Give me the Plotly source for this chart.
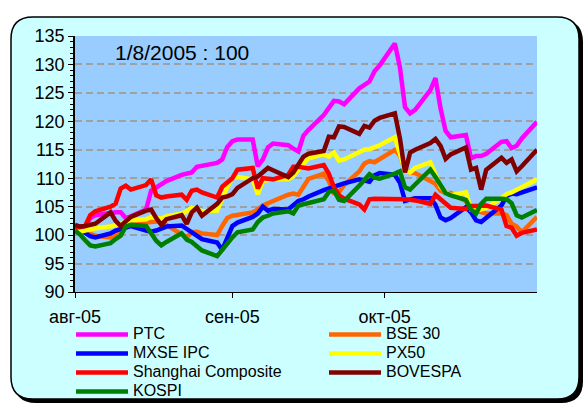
import plotly.graph_objects as go

# ---------------- data ----------------
AUG_DAYS = [1, 2, 3, 4, 5, 8, 9, 10, 11, 12, 15, 16, 17, 18, 19, 22, 23, 24, 25, 26, 29, 30, 31]
SEP_DAYS = [1, 2, 5, 6, 7, 8, 9, 12, 13, 14, 15, 16, 19, 20, 21, 22, 23, 26, 27, 28, 29, 30]
OCT_DAYS = [3, 4, 5, 6, 7, 10, 11, 12, 13, 14, 17, 18, 19, 20, 21, 24, 25, 26, 27, 28, 31]

dates = ([f"2005-08-{d:02d}" for d in AUG_DAYS] +
         [f"2005-09-{d:02d}" for d in SEP_DAYS] +
         [f"2005-10-{d:02d}" for d in OCT_DAYS])

tick_dates = ["2005-08-01", "2005-09-01", "2005-10-01"]
tick_labels = ["авг-05", "сен-05", "окт-05"]

rts = [101, 101, 101.5, 103, 103.5, 104, 104, 104, 103, 103.3, 104.5, 107.8, 108.3, 109, 109.5,
       110.6, 110.8, 111, 112, 112.2, 112.7, 113.3, 115.5,
       116.5, 116.8, 116.8, 112.1, 113.3, 115.4, 116.1, 115.8, 115.2, 114.7, 117.5, 118.5,
       121.1, 122.5, 123.6, 123.5, 123, 125.8, 126.5, 127, 128.8, 129.8,
       133.7, 129.5, 122.5, 121.4, 122, 125.5, 127.6, 122.3, 118.3, 117.2,
       117.6, 113.5, 113.9, 113.9, 114.3, 116.4, 116.5, 115.3, 115.7, 117, 119.9]

bse30 = [101, 100.8, 100.5, 100.2, 99.9, 99.6, 100.2, 100.8, 101.5, 101.9, 102.2, 102.3, 102.4, 102.5, 101.8,
         100.3, 99.6, 100.5, 100.6, 100.3, 100, 101.6, 103,
         103.4, 103.6, 104, 104.5, 105.2, 105.6, 106, 107.1, 107.3, 107.1, 108.5, 109.9,
         110.8, 109.5, 107.4, 107.6, 108.8, 111.2, 112.6, 113, 112.8, 113.4,
         115, 114, 111.5, 111, 110.9, 109.5, 109, 107.8, 107.4, 107.4,
         106, 104.5, 104.2, 104, 103.8, 103.8, 103.5, 102, 101.5, 100.5, 103.2]

mxse_ipc = [101.2, 101, 100.4, 99.8, 99.6, 100.3, 100.8, 101, 101.3, 101.6, 100.8, 100.6, 100.8, 101.2, 101.5,
            101.7, 101.1, 100.4, 99.8, 99.3, 98.7, 97.4, 99.5,
            101.6, 102.2, 103.2, 103.8, 105, 104.3, 104.6, 104.5, 105.2, 106, 106.3, 106.8,
            107.9, 108.2, 108.5, 108.9, 109.1, 109.8, 109.6, 109.4, 110.5, 110.9,
            110.6, 109.2, 106, 106.3, 106.5, 106.5, 105.3, 103.1, 102.6, 103,
            104.9, 104, 102.6, 102.3, 103, 105.2, 106.9, 107.3, 107.2, 107.5, 108.4]

px50 = [100.8, 100.6, 100.8, 101, 101.2, 101.5, 101.8, 102.2, 102.5, 102.6, 102.8, 103.2, 103, 102.9, 103.3,
        103.8, 104.2, 104.8, 104.5, 104.2, 104.3, 106.5, 108.5,
        110, 110.2, 109.8, 107.2, 109.5, 109.7, 109.8, 109.8, 110.4, 111.5, 112.5, 113.5,
        114.2, 113.8, 114.5, 113.1, 113.3, 114.6, 115, 115.1, 115.4, 115.8,
        117.2, 114, 111.3, 111, 111.8, 112.8, 110.5, 108.5, 107.6, 107,
        107.5, 104.5, 104.3, 104.5, 104.8, 106.5, 107.2, 107.5, 108, 108.3, 109.8]

shanghai = [101.3, 101.4, 101.6, 103.5, 104.2, 105, 105.5, 108.2, 108.7, 108, 108.8, 109.8, 107, 106.6, 106.8,
            107.1, 106.2, 107.8, 108, 107.5, 106.6, 108.5, 109.3,
            110, 111.5, 111.8, 108.2, 110, 109.9, 109.8, 110.6, 112, 112, 111.9, 111.7,
            112.3, 110.8, 108.4, 107, 106.4, 105.4, 104.5, 106.3, 106.4, 106.4,
            106.4, 106.3, 106.3, 106.2, 106.1, 105.5, 107.1, 106.3, 105.6, 104.8,
            104.6, 105.1, 105.1, 105.1, 105.2, 104.5, 101.6, 101.3, 99.9, 100.4, 101]

bovespa = [101.8, 101.5, 101.6, 101.8, 102, 104, 102.5, 101.6, 102.5, 103.2, 104.3, 104.5, 103, 101.8, 102.8,
           103.5, 102, 104, 104.8, 103.4, 105.5, 106.6, 106.8,
           107.2, 108.3, 110, 110.3, 111, 111.8, 111.4, 110.2, 111, 112.5, 113.8, 114.3,
           114.8, 117.3, 117.2, 119.1, 119, 117.8, 119.2, 118.9, 120.1, 120.6,
           121.4, 117, 111, 114.5, 115, 116.2, 116.9, 115.7, 113.4, 114.2,
           115.4, 111.5, 111.8, 108, 111.5, 113.6, 112.7, 113.3, 111.2, 112.1, 115]

kospi = [100.8, 100.1, 99.1, 98.2, 98, 98.6, 99.3, 99.9, 101.5, 101.8, 101.6, 100.3, 99, 98.2, 98.8,
         100.3, 99.2, 98.8, 98, 97.3, 96.3, 97.5, 98.5,
         99.6, 100.5, 101, 102.3, 103.1, 103.4, 103.8, 104.2, 103.8, 105.2, 105.4, 105.5,
         106.3, 107.6, 107.8, 106.2, 106, 108.7, 109.6, 110.7, 110.1, 109.9,
         110.8, 111.2, 108.4, 108, 108.9, 111.5, 110.2, 108.6, 107.4, 107,
         106.2, 104.5, 103.8, 105.5, 106.4, 106.4, 106.3, 105.6, 103.5, 103.1, 104.4]

series_names = ["PTC", "BSE 30", "MXSE IPC", "PX50", "Shanghai Composite", "BOVESPA", "KOSPI"]
series_values = [rts, bse30, mxse_ipc, px50, shanghai, bovespa, kospi]
series_colors = ["#FF00FF", "#FF6600", "#0000FF", "#FFFF00", "#FF0000", "#800000", "#008000"]

# ---------------- layout geometry (pixels) ----------------
W, H = 584, 407
L, R, T, B = 75, 47, 36, 115
PW, PH = W - L - R, H - T - B
FONT = "Arial, Liberation Sans, sans-serif"
LEGEND_TEXT_PX = 16


def px2paper(x, y):
    return (x - L) / PW, (H - B - y) / PH


def rounded_path(x0, y0, x1, y1, r):
    def P(x, y):
        a, b = px2paper(x, y)
        return f"{a:.5f},{b:.5f}"
    return (f"M{P(x0 + r, y0)} L{P(x1 - r, y0)} Q{P(x1, y0)} {P(x1, y0 + r)} "
            f"L{P(x1, y1 - r)} Q{P(x1, y1)} {P(x1 - r, y1)} "
            f"L{P(x0 + r, y1)} Q{P(x0, y1)} {P(x0, y1 - r)} "
            f"L{P(x0, y0 + r)} Q{P(x0, y0)} {P(x0 + r, y0)} Z")


fig = go.Figure()
for name, vals, col in zip(series_names, series_values, series_colors):
    fig.add_trace(go.Scatter(
        x=dates, y=vals, mode="lines",
        name=f"<span style='font-size:{LEGEND_TEXT_PX}px'>{name}</span>",
        line=dict(color=col, width=4.5)))

shapes = [
    dict(type="path", xref="paper", yref="paper", layer="below",
         path=rounded_path(14, 20, 583, 403, 22), fillcolor="#000000", line=dict(width=0)),
    dict(type="path", xref="paper", yref="paper", layer="below",
         path=rounded_path(11, 17, 579, 399, 22), fillcolor="#CCFFFF",
         line=dict(color="#000000", width=1.5)),
    dict(type="rect", xref="paper", yref="paper", layer="below",
         x0=0, x1=1, y0=0, y1=1, fillcolor="#99CCFF", line=dict(width=0)),
]

fig.update_layout(
    width=W, height=H,
    margin=dict(l=L, r=R, t=T, b=B, autoexpand=False),
    paper_bgcolor="#FFFFFF",
    plot_bgcolor="rgba(0,0,0,0)",
    font=dict(family=FONT, color="#000000"),
    shapes=shapes,
    showlegend=True,
    legend=dict(orientation="h", x=(71 - L) / PW, xanchor="left",
                y=(H - B - 320) / PH, yanchor="top",
                entrywidth=186, entrywidthmode="pixels",
                font=dict(size=12, family=FONT), bgcolor="rgba(0,0,0,0)",
                itemwidth=52, tracegroupgap=0),
    annotations=[dict(text="1/8/2005 : 100", xref="paper", yref="paper",
                      x=(113 - L) / PW, y=(H - B - 52) / PH, xanchor="left", yanchor="middle",
                      showarrow=False, font=dict(size=21, family=FONT))],
)

fig.update_xaxes(type="date", range=["2005-08-01", "2005-10-31"],
                 tickvals=tick_dates, ticktext=tick_labels,
                 showgrid=False, showline=True, linecolor="#000000", linewidth=1,
                 ticks="outside", ticklen=5, tickcolor="#000000",
                 tickfont=dict(size=18, family=FONT), ticklabelstandoff=3, zeroline=False)

fig.update_yaxes(range=[90, 135], dtick=5, tick0=90,
                 showgrid=True, gridcolor="#A0A0A0", gridwidth=1.5, griddash="7px,4px",
                 showline=True, linecolor="#000000", linewidth=1.5,
                 ticks="outside", ticklen=5, tickcolor="#000000",
                 minor=dict(dtick=1, ticks="outside", ticklen=3, tickcolor="#000000", showgrid=False),
                 tickfont=dict(size=18, family=FONT), zeroline=False)

# the page's default 8px body margin would shift the figure; remove it
fig.write_html("out.html", config={"displayModeBar": False},
               post_script="document.body.style.margin='0px';")
